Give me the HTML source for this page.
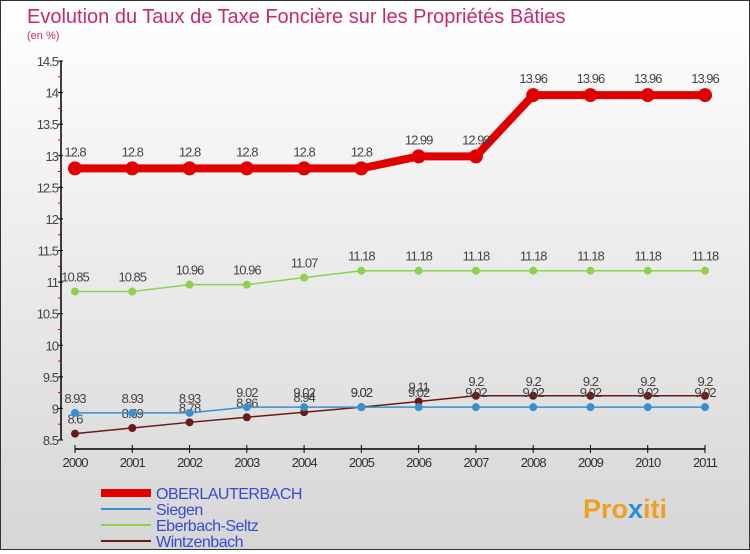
<!DOCTYPE html>
<html><head><meta charset="utf-8"><style>
body{margin:0;width:750px;height:550px;overflow:hidden;font-family:"Liberation Sans",sans-serif}
#wrap{position:absolute;left:0;top:0;width:748px;height:548px;border:1px solid #333;background:linear-gradient(#ffffff,#d6d6d6);}
</style></head><body>
<div id="wrap">
<svg id="c" width="748" height="548" style="font-family:'Liberation Sans',sans-serif">
<text x="26" y="22" font-size="20" fill="#c8286e">Evolution du Taux de Taxe Foncière sur les Propriétés Bâties</text>
<text x="26" y="38" font-size="11" fill="#c8286e">(en %)</text>
<g id="axes"></g><g id="series"></g><g id="legend"></g>
<text x="582" y="517" font-size="27" font-weight="bold" fill="#f0a020">Pro<tspan fill="#2a8fd8">x</tspan>iti</text>
</svg></div>
<script>
const years=["2000","2001","2002","2003","2004","2005","2006","2007","2008","2009","2010","2011"];
const yTicks=[8.5,9,9.5,10,10.5,11,11.5,12,12.5,13,13.5,14,14.5];
const oberlauterbach=[12.8,12.8,12.8,12.8,12.8,12.8,12.99,12.99,13.96,13.96,13.96,13.96];
const siegen=[8.93,8.93,8.93,9.02,9.02,9.02,9.02,9.02,9.02,9.02,9.02,9.02];
const eberbach=[10.85,10.85,10.96,10.96,11.07,11.18,11.18,11.18,11.18,11.18,11.18,11.18];
const wintzenbach=[8.6,8.69,8.78,8.86,8.94,9.02,9.11,9.2,9.2,9.2,9.2,9.2];
const NS="http://www.w3.org/2000/svg";
const yMin=8.5,yMax=14.5,yTopPx=60,yBotPx=439;
function Y(v){return yBotPx-(v-yMin)/(yMax-yMin)*(yBotPx-yTopPx);}
function X(i){return 74+i*(630/(years.length-1));}
function mk(t,a,p){const e=document.createElementNS(NS,t);for(const k in a)e.setAttribute(k,a[k]);p.appendChild(e);return e;}
const ax=document.getElementById('axes');
const yl=mk('line',{x1:60,y1:yTopPx,x2:60,y2:yBotPx,stroke:'#000','stroke-width':1.5},ax);


for(let v=yMin;v<yMax;v+=0.5){const m=mk('line',{x1:57,x2:60,y1:Y(v+0.25),y2:Y(v+0.25),stroke:'#e00'},ax);

}
yTicks.forEach(v=>{mk('line',{x1:57,x2:62,y1:Y(v),y2:Y(v),stroke:'#000'},ax);
const t=mk('text',{x:57,y:Y(v)+5,'text-anchor':'end','font-size':13,fill:'#444','letter-spacing':'-1'},ax);t.textContent=String(v);

});
const xl=mk('line',{x1:X(0),y1:448,x2:X(years.length-1),y2:448,stroke:'#000','stroke-width':1.5},ax);


years.forEach((y,i)=>{mk('line',{x1:X(i),x2:X(i),y1:444,y2:452,stroke:'#000'},ax);
const t=mk('text',{x:X(i),y:466,'text-anchor':'middle','font-size':13,fill:'#333','letter-spacing':'-1'},ax);t.textContent=y;

});
const sg=document.getElementById('series');
function series(name,vals,color,w,r,off){
const g=mk('g',{},sg);


mk('polyline',{points:vals.map((v,i)=>X(i)+','+Y(v)).join(' '),fill:'none',stroke:color,'stroke-width':w},g);
vals.forEach((v,i)=>{const c=mk('circle',{cx:X(i),cy:Y(v),r:r,fill:color},g);


const t=mk('text',{x:X(i),y:Y(v)+off,'text-anchor':'middle','font-size':13,fill:'#444','letter-spacing':'-1'},g);t.textContent=String(v);

});}
series('eberbach-seltz',eberbach,'#8fd14f',1.5,4,-10);
series('wintzenbach',wintzenbach,'#6b1a1a',1.5,4,-10);
series('siegen',siegen,'#3a8fd0',1.5,4,-10);
series('oberlauterbach',oberlauterbach,'#e00000',8,7,-12);
const lg=document.getElementById('legend');
const items=[["OBERLAUTERBACH","#e00000",8],["Siegen","#3a8fd0",2],["Eberbach-Seltz","#8fd14f",2],["Wintzenbach","#6b1a1a",2]];
items.forEach((it,i)=>{const y=492+i*16;
const g=mk('g',{},lg);


mk('line',{x1:100,x2:150,y1:y,y2:y,stroke:it[1],'stroke-width':it[2]},g);
const t=mk('text',{x:155,y:y+6,'font-size':16,fill:'#3a4ad0','letter-spacing':'-0.5'},g);t.textContent=it[0];});
</script></body></html>
